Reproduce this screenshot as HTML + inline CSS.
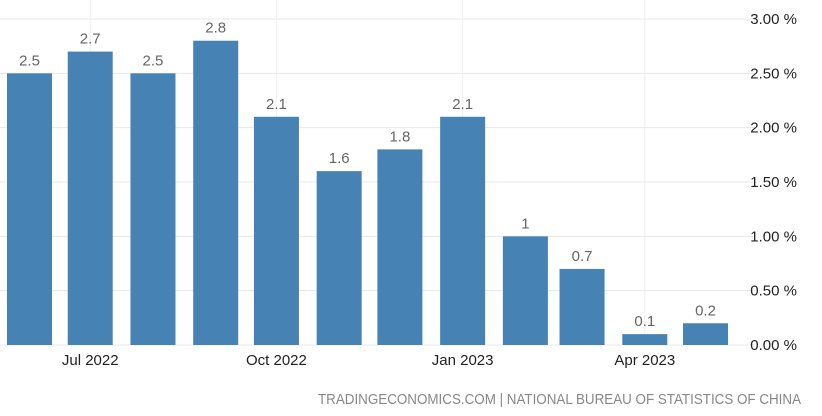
<!DOCTYPE html>
<html><head><meta charset="utf-8"><style>
body{margin:0;background:#fff;width:822px;height:411px;overflow:hidden;font-family:"Liberation Sans",sans-serif}
</style></head><body>
<svg id="chart" width="822" height="411" xmlns="http://www.w3.org/2000/svg">
<g id="grid"></g>
<g id="bars"></g>
<g id="yaxis"></g>
<g id="xaxis"></g>
<text x="318" y="404" font-size="15" fill="#888" textLength="483" lengthAdjust="spacingAndGlyphs">TRADINGECONOMICS.COM | NATIONAL BUREAU OF STATISTICS OF CHINA</text>
</svg>
<script>
const months=["2022-06-01","2022-07-01","2022-08-01","2022-09-01","2022-10-01","2022-11-01","2022-12-01","2023-01-01","2023-02-01","2023-03-01","2023-04-01","2023-05-01"];
const values=[2.5,2.7,2.5,2.8,2.1,1.6,1.8,2.1,1,0.7,0.1,0.2];
const valueLabels=["2.5","2.7","2.5","2.8","2.1","1.6","1.8","2.1","1","0.7","0.1","0.2"];
const yTicks=[0,0.5,1,1.5,2,2.5,3];
const yTickLabels=["0.00 %","0.50 %","1.00 %","1.50 %","2.00 %","2.50 %","3.00 %"];
const xTicks=["2022-07-01","2022-10-01","2023-01-01","2023-04-01"];
const xTickLabels=["Jul 2022","Oct 2022","Jan 2023","Apr 2023"];
const NS="http://www.w3.org/2000/svg";
const t0=Date.parse("2022-06-01");
function x(d){return 29.5+(Date.parse(d)-t0)/86400000*2.024;}
function y(v){return 345-v*108.67;}
function mk(tag,attrs,parent,txt){const e=document.createElementNS(NS,tag);for(const k in attrs)e.setAttribute(k,attrs[k]);if(txt!==undefined)e.textContent=txt;document.getElementById(parent).appendChild(e);return e;}
yTicks.forEach((v,i)=>{
  const l=mk("line",{x1:0,x2:755,y1:y(v),y2:y(v),stroke:"#e8e8e8","stroke-width":1},"grid");
  
  
  const t=mk("text",{x:797,y:y(v)+5,"text-anchor":"end","font-size":15,fill:"#222"},"yaxis",yTickLabels[i]);
  
  
});
xTicks.forEach((d,i)=>{
  const l=mk("line",{x1:x(d),x2:x(d),y1:0,y2:345,stroke:"#eeeeee","stroke-width":1},"grid");
  
  
  const t=mk("text",{x:x(d),y:365,"text-anchor":"middle","font-size":15,fill:"#222"},"xaxis",xTickLabels[i]);
  
  
});
months.forEach((d,i)=>{
  const cx=x(d),v=values[i];
  const r=mk("rect",{x:cx-22.5,y:y(v),width:45,height:345-y(v),fill:"#4682b4"},"bars");
  
  
  const t=mk("text",{x:cx,y:y(v)-8,"text-anchor":"middle","font-size":15,fill:"#666"},"bars",valueLabels[i]);
  
  
});
</script>
</body></html>
